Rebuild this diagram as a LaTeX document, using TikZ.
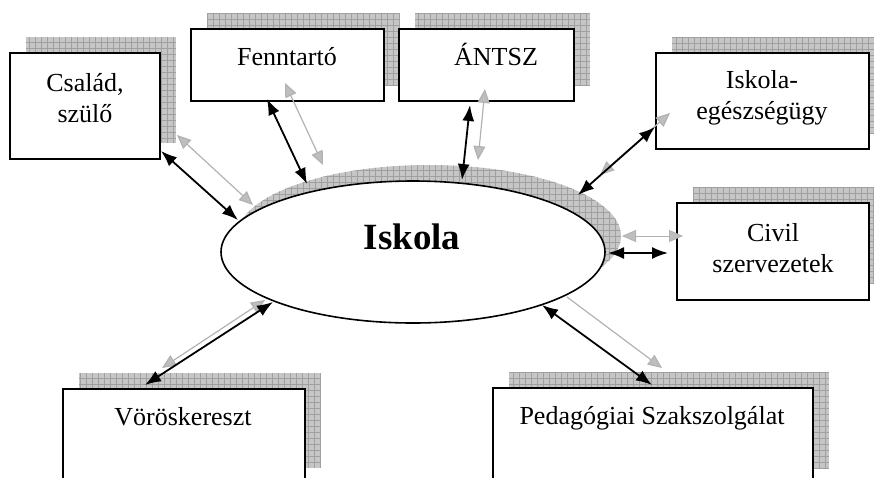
\documentclass[tikz,border=0pt]{standalone}
\usepackage{fontspec}
\setmainfont{Liberation Serif}
\usetikzlibrary{arrows.meta,shapes.geometric}
\definecolor{shadefill}{RGB}{198,198,198}
\definecolor{shadegrid}{RGB}{160,160,160}
\definecolor{lightarrow}{RGB}{178,178,178}
\definecolor{lighthead}{RGB}{190,190,190}
\begin{document}
\begin{tikzpicture}[x=1pt,y=-1pt,
  box/.style={draw=black, line width=1.6pt, fill=white, rectangle, inner sep=0pt},
  shadebox/.style={fill=shadefill, draw=none, inner sep=0pt,
    path picture={\draw[shadegrid, line width=0.5pt, step=6pt]
      (path picture bounding box.south west) grid (path picture bounding box.north east);}},
  lbl/.style={font=\fontsize{26}{31}\selectfont, align=center, anchor=base, inner sep=0pt},
  blk/.style={{Latex[length=16pt,width=12pt]}-{Latex[length=16pt,width=12pt]}, line width=1.8pt, draw=black},
  gry/.style={{Triangle[length=14pt,width=12pt,fill=lighthead]}-{Triangle[length=14pt,width=12pt,fill=lighthead]}, line width=1.2pt, draw=lightarrow},
  gryone/.style={-{Triangle[length=14pt,width=12pt,fill=lighthead]}, line width=1.2pt, draw=lightarrow},
]
\useasboundingbox (0,0) rectangle (874,477);

% shadows
\node[shadebox, minimum width=150pt, minimum height=106pt] (famS) at (101,90) {};
\node[shadebox, minimum width=193pt, minimum height=72pt] (fennS) at (303.5,49) {};
\node[shadebox, minimum width=175pt, minimum height=72pt] (antszS) at (502.5,49) {};
\node[shadebox, minimum width=213pt, minimum height=96pt] (iskS) at (778.5,85) {};
\node[shadebox, minimum width=192pt, minimum height=97pt] (civS) at (789,235.5) {};
\node[shadebox, minimum width=242pt, minimum height=95pt] (vorS) at (200,420.5) {};
\node[shadebox, minimum width=320pt, minimum height=96pt] (pedS) at (669,420) {};
\node[shadebox, ellipse, minimum width=384pt, minimum height=142pt] (schS) at (429,236) {};

% boxes
\node[box, minimum width=150pt, minimum height=106pt] (fam) at (85,106) {};
\node[box, minimum width=193pt, minimum height=72pt] (fenn) at (287.5,65) {};
\node[box, minimum width=175pt, minimum height=72pt] (antsz) at (486.5,65) {};
\node[box, minimum width=213pt, minimum height=96pt] (isk) at (762.5,101) {};
\node[box, minimum width=192pt, minimum height=97pt] (civ) at (773,251.5) {};
\node[box, minimum width=242pt, minimum height=95pt] (vor) at (184,436.5) {};
\node[box, minimum width=320pt, minimum height=96pt] (ped) at (653,436) {};
\node[box, ellipse, minimum width=384pt, minimum height=142pt] (sch) at (413,252) {};

% labels
\node[lbl] (famT) at (85,122) {Család,\\szülő};
\node[lbl] (fennT) at (287,65) {Fenntartó};
\node[lbl] (antszT) at (496,65) {ÁNTSZ};
\node[lbl] (iskT) at (762,119) {Iskola-\\egészségügy};
\node[lbl] (civT) at (773,272) {Civil\\szervezetek};
\node[lbl] (vorT) at (183,425) {Vöröskereszt};
\node[lbl] (pedT) at (652,424) {Pedagógiai Szakszolgálat};
\node[font=\bfseries\fontsize{37}{40}\selectfont, anchor=base, inner sep=0pt] (schT) at (412,249) {Iskola};

% arrow end points
\coordinate (g1a) at (177,135); \coordinate (g1b) at (253,205);
\coordinate (g2a) at (285,83);  \coordinate (g2b) at (323,165);
\coordinate (g3a) at (485,89);  \coordinate (g3b) at (478,160);
\coordinate (g4a) at (670,113); \coordinate (g4b) at (600,175);
\coordinate (g5a) at (622,236); \coordinate (g5b) at (683,236);
\coordinate (g6a) at (265,300); \coordinate (g6b) at (162,368);
\coordinate (g7a) at (567,297); \coordinate (g7b) at (662,368);

\coordinate (b1a) at (161,151); \coordinate (b1b) at (238,220);
\coordinate (b2a) at (267,99);  \coordinate (b2b) at (307,184);
\coordinate (b3a) at (470,105); \coordinate (b3b) at (462,180);
\coordinate (b4a) at (655,127); \coordinate (b4b) at (578,195);
\coordinate (b5a) at (608,253); \coordinate (b5b) at (668,253);
\coordinate (b6a) at (273,302); \coordinate (b6b) at (145,385);
\coordinate (b7a) at (542,305); \coordinate (b7b) at (652,385);

% grey arrows
\draw[gry] (g1a) -- (g1b);
\draw[gry] (g2a) -- (g2b);
\draw[gry] (g3a) -- (g3b);
\draw[gry] (g4a) -- (g4b);
\draw[gry, line width=0.9pt] (g5a) -- (g5b);
\draw[gry] (g6a) -- (g6b);
\draw[gryone] (g7a) -- (g7b);

% black arrows
\draw[blk] (b1a) -- (b1b);
\draw[blk] (b2a) -- (b2b);
\draw[blk] (b3a) -- (b3b);
\draw[blk] (b4a) -- (b4b);
\draw[blk] (b5a) -- (b5b);
\draw[blk] (b6a) -- (b6b);
\draw[blk] (b7a) -- (b7b);
\end{tikzpicture}
\end{document}
